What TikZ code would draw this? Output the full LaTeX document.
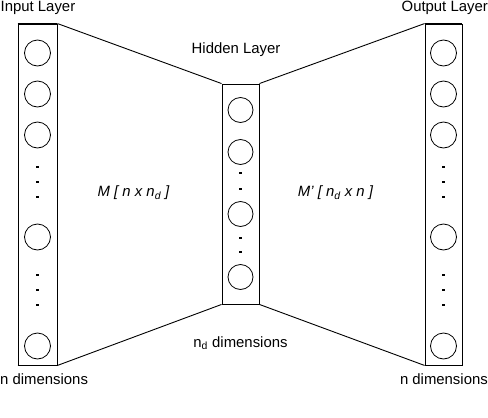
\documentclass[tikz,border=0pt]{standalone}
\usepackage{fontspec}
\setmainfont{Liberation Sans}
\begin{document}
\begin{tikzpicture}[x=1pt,y=-1pt,
  layerbox/.style={draw,line width=0.9pt,rectangle,inner sep=0pt,minimum width=#1},
  neuron/.style={draw,line width=0.8pt,circle,inner sep=0pt,minimum size=26pt},
  hdot/.style={fill,rectangle,inner sep=0pt,minimum size=2.2pt},
  thickedge/.style={line width=1.8pt},
  link/.style={line width=0.9pt},
  lbl/.style={font=\fontsize{14.9}{17}\selectfont,inner sep=0pt}]
\useasboundingbox (0,0) rectangle (488,418);
% boxes
\node[layerbox=39pt,minimum height=341pt] (inL) at (37.5,194.5) {};
\node[layerbox=37pt,minimum height=220pt] (hid) at (240.5,194) {};
\node[layerbox=37pt,minimum height=341pt] (outL) at (443.5,194.5) {};
\draw[thickedge] (inL.north west) -- (inL.north east);
\draw[thickedge] (inL.south west) -- (inL.south east);
\draw[thickedge] (outL.north west) -- (outL.north east);
\draw[thickedge] (outL.south west) -- (outL.south east);
\draw[thickedge] (hid.south west) -- (hid.south east);
% connectors
\draw[link] (inL.north east) -- (hid.north west);
\draw[link] (hid.north east) -- (outL.north west);
\draw[link] (inL.south east) -- (hid.south west);
\draw[link] (hid.south east) -- (outL.south west);
% input neurons
\node[neuron] (i1) at (37.5,53) {};
\node[neuron] (i2) at (37.5,94) {};
\node[neuron] (i3) at (37.5,135) {};
\node[neuron] (i4) at (37.5,237) {};
\node[neuron] (i5) at (37.5,346) {};
\node[hdot] (id1) at (37.5,167) {};
\node[hdot] (id2) at (37.5,182) {};
\node[hdot] (id3) at (37.5,197) {};
\node[hdot] (id4) at (37.5,275) {};
\node[hdot] (id5) at (37.5,290) {};
\node[hdot] (id6) at (37.5,305) {};
% output neurons
\node[neuron] (o1) at (443.5,53) {};
\node[neuron] (o2) at (443.5,94) {};
\node[neuron] (o3) at (443.5,135) {};
\node[neuron] (o4) at (443.5,237) {};
\node[neuron] (o5) at (443.5,346) {};
\node[hdot] (od1) at (443.5,167) {};
\node[hdot] (od2) at (443.5,182) {};
\node[hdot] (od3) at (443.5,197) {};
\node[hdot] (od4) at (443.5,275) {};
\node[hdot] (od5) at (443.5,290) {};
\node[hdot] (od6) at (443.5,305) {};
% hidden neurons
\node[neuron,minimum size=25pt] (h1) at (240.5,110) {};
\node[neuron,minimum size=25pt] (h2) at (240.5,152) {};
\node[neuron,minimum size=25pt] (h3) at (240.5,214) {};
\node[neuron,minimum size=25pt] (h4) at (240.5,277) {};
\node[hdot] (hd1) at (240.5,173) {};
\node[hdot] (hd2) at (240.5,189) {};
\node[hdot] (hd3) at (240.5,238) {};
\node[hdot] (hd4) at (240.5,252) {};
% labels
\node[lbl,anchor=west] (tin) at (0.5,8) {Input Layer};
\node[lbl] (thid) at (236,50) {Hidden Layer};
\node[lbl,anchor=east] (tout) at (488,8) {Output Layer};
\node[lbl,anchor=west] (bin) at (0,379) {n dimensions};
\node[lbl,anchor=east] (bout) at (488,379) {n dimensions};
\node[lbl] (bhid) at (240.5,343) {n\textsubscript{d} dimensions};
\node[lbl] (mleft) at (133.5,193) {\itshape M [ n x n\textsubscript{d} ]};
\node[lbl] (mright) at (335.5,193) {\itshape M' [ n\textsubscript{d} x n ]};
\end{tikzpicture}
\end{document}
